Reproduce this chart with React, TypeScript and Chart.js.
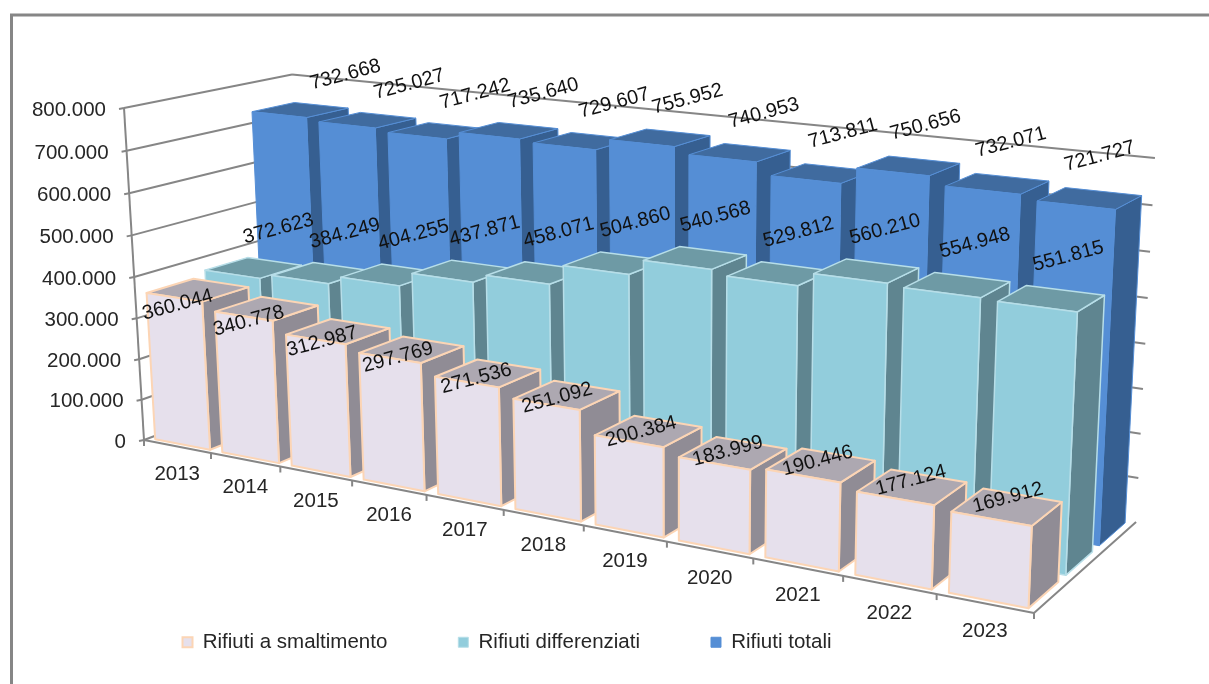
import React, { useEffect, useRef } from "react";
import { Chart, registerables } from "chart.js";

Chart.register(...registerables);

const categories = ["2013","2014","2015","2016","2017","2018","2019","2020","2021","2022","2023"];
const smaltimento = [360044,340778,312987,297769,271536,251092,200384,183999,190446,177124,169912];
const differenziati = [372623,384249,404255,437871,458071,504860,540568,529812,560210,554948,551815];
const totali = [732668,725027,717242,735640,729607,755952,740953,713811,750656,732071,721727];

const FONT = '"Liberation Sans", Arial, sans-serif';
const GREY = "#868686";
const TEXT = "#262626";

// perspective of the chart box: screen position of the box origin and the three far ends, with homogeneous weights
const O = [144, 440];
const U = [1034, 613];
const V = [124, 108];
const W = [304.8, 379.2];
const WU = 0.814, WV = 0.964, WW = 1.0935;

function project(u: number, v: number, w: number): [number, number] {
  const h = 1 + u * (WU - 1) + v * (WV - 1) + w * (WW - 1);
  const x = O[0] + u * (WU * U[0] - O[0]) + v * (WV * V[0] - O[0]) + w * (WW * W[0] - O[0]);
  const y = O[1] + u * (WU * U[1] - O[1]) + v * (WV * V[1] - O[1]) + w * (WW * W[1] - O[1]);
  return [x / h, y / h];
}

const fmt = (n: number) => String(Math.round(n)).replace(/\B(?=(\d{3})+$)/g, ".");

type Look = { front: string; top: string; side: string; edge: string; edgeW: number; depth: [number, number]; lab0: [number, number]; lab1: [number, number] };
const looks: Look[] = [
  { front: "#E6E0EC", top: "#ADA8B1", side: "#908C95", edge: "#FCD5B5", edgeW: 2, depth: [0.03, 0.3], lab0: [-20, 15], lab1: [1, -9] },
  { front: "#92CDDC", top: "#6E9AA5", side: "#5F8590", edge: "#B7DEE8", edgeW: 1.5, depth: [0.37, 0.63], lab0: [25, -39], lab1: [17, -42] },
  { front: "#558ED5", top: "#406B9F", side: "#365F91", edge: "#558ED5", edgeW: 1, depth: [0.7, 0.97], lab0: [45, -35], lab1: [10, -42] },
];
const BAR_FROM = 0.09, BAR_TO = 0.91;

function poly(ctx: CanvasRenderingContext2D, pts: [number, number][], fill: string, edge: string, lw: number) {
  ctx.beginPath();
  pts.forEach((p, i) => (i ? ctx.lineTo(p[0], p[1]) : ctx.moveTo(p[0], p[1])));
  ctx.closePath();
  ctx.fillStyle = fill;
  ctx.fill();
  ctx.strokeStyle = edge;
  ctx.lineWidth = lw;
  ctx.lineJoin = "round";
  ctx.stroke();
}

function seg(ctx: CanvasRenderingContext2D, a: [number, number], b: [number, number]) {
  ctx.beginPath();
  ctx.moveTo(a[0], a[1]);
  ctx.lineTo(b[0], b[1]);
  ctx.stroke();
}

const box3d = {
  id: "box3d",
  afterLayout(chart: any) {
    chart.legend.top = 643 - 71 - 11;
  },
  beforeDraw(chart: any) {
    const ctx = chart.ctx;
    ctx.save();
    ctx.strokeStyle = GREY;
    ctx.lineWidth = 3;
    ctx.beginPath();
    ctx.moveTo(11.5, 684);
    ctx.lineTo(11.5, 15);
    ctx.lineTo(1209, 15);
    ctx.stroke();
    ctx.restore();
  },
  beforeDatasetsDraw(chart: any) {
    const ctx: CanvasRenderingContext2D = chart.ctx;
    const xs = chart.scales.x, ys = chart.scales.y;
    const uOf = (px: number) => (px - xs.left) / xs.width;
    const vOf = (val: number) => (ys.bottom - ys.getPixelForValue(val)) / ys.height;
    const slot = 1 / categories.length;
    ctx.save();

    // walls and floor
    ctx.strokeStyle = GREY;
    ctx.lineWidth = 2;
    for (const t of ys.ticks) {
      const v = vOf(t.value);
      seg(ctx, project(0, v, 0), project(0, v, 1));
      if (t.value > 0) seg(ctx, project(0, v, 1), project(1, v, 1));
      const a = project(0, v, 0);
      seg(ctx, a, [a[0] - 5, a[1] + 1]);
      ctx.fillStyle = TEXT;
      ctx.font = `20.5px ${FONT}`;
      ctx.textAlign = "right";
      ctx.textBaseline = "middle";
      ctx.fillText(fmt(t.value), a[0] - 18, a[1] + 2);
    }
    seg(ctx, project(0, 0, 0), project(0, 1, 0));
    seg(ctx, project(0, 0, 0), project(1, 0, 0));
    seg(ctx, project(1, 0, 0), project(1, 0, 1));
    for (let i = 0; i <= categories.length; i++) {
      const a = project(i * slot, 0, 0);
      seg(ctx, a, [a[0], a[1] + 6]);
    }

    // bars, back row first, left to right
    const labels: { text: string; x: number; y: number }[] = [];
    for (let d = 2; d >= 0; d--) {
      const l = looks[d];
      const values: number[] = chart.data.datasets[d].data;
      const [w0, w1] = l.depth;
      values.forEach((val, i) => {
        const uc = uOf(xs.getPixelForValue(i));
        const u0 = uc + (BAR_FROM - 0.5) * slot;
        const u1 = uc + (BAR_TO - 0.5) * slot;
        const v = vOf(val);
        poly(ctx, [project(u1, 0, w0), project(u1, 0, w1), project(u1, v, w1), project(u1, v, w0)], l.side, l.edge, l.edgeW);
        poly(ctx, [project(u0, v, w0), project(u1, v, w0), project(u1, v, w1), project(u0, v, w1)], l.top, l.edge, l.edgeW);
        poly(ctx, [project(u0, 0, w0), project(u1, 0, w0), project(u1, v, w0), project(u0, v, w0)], l.front, l.edge, l.edgeW);
        const c = project(uc, v, (w0 + w1) / 2);
        const k = i / (values.length - 1);
        labels.push({
          text: fmt(val),
          x: c[0] + l.lab0[0] + (l.lab1[0] - l.lab0[0]) * k,
          y: c[1] + l.lab0[1] + (l.lab1[1] - l.lab0[1]) * k,
        });
      });
    }

    // value labels
    ctx.fillStyle = "#111";
    ctx.font = `20px ${FONT}`;
    ctx.textAlign = "center";
    ctx.textBaseline = "middle";
    for (const t of labels) {
      ctx.save();
      ctx.translate(t.x, t.y);
      ctx.rotate((-15 * Math.PI) / 180);
      ctx.fillText(t.text, 0, 0);
      ctx.restore();
    }

    // category labels
    ctx.fillStyle = TEXT;
    ctx.font = `20.5px ${FONT}`;
    categories.forEach((c, i) => {
      const p = project(uOf(xs.getPixelForValue(i)), 0, 0);
      ctx.fillText(c, p[0], p[1] + 28);
    });
    ctx.restore();
    return false;
  },
};

export default function App() {
  const ref = useRef<HTMLCanvasElement>(null);
  useEffect(() => {
    document.body.style.margin = "0";
    document.body.style.background = "#fff";
    const chart = new Chart(ref.current as HTMLCanvasElement, {
      type: "bar",
      plugins: [box3d],
      data: {
        labels: categories,
        datasets: [
          { label: "Rifiuti a smaltimento", data: smaltimento, backgroundColor: looks[0].front, borderColor: looks[0].edge, borderWidth: 2 },
          { label: "Rifiuti differenziati", data: differenziati, backgroundColor: looks[1].front, borderColor: looks[1].edge, borderWidth: 1 },
          { label: "Rifiuti totali", data: totali, backgroundColor: looks[2].front, borderColor: looks[2].edge, borderWidth: 1 },
        ],
      },
      options: {
        responsive: false,
        animation: false,
        layout: { padding: { left: 0, right: 195, top: 0, bottom: 0 } },
        scales: {
          x: { display: false },
          y: { display: false, min: 0, max: 800000, ticks: { stepSize: 100000 } },
        },
        plugins: {
          tooltip: { enabled: false },
          legend: {
            position: "bottom",
            labels: {
              boxWidth: 10,
              boxHeight: 10,
              padding: 71,
              color: TEXT,
              font: { family: FONT, size: 20.5 },
            },
          },
        },
      },
    } as any);
    return () => chart.destroy();
  }, []);
  return <canvas ref={ref} width={1209} height={684} style={{ display: "block" }} />;
}
